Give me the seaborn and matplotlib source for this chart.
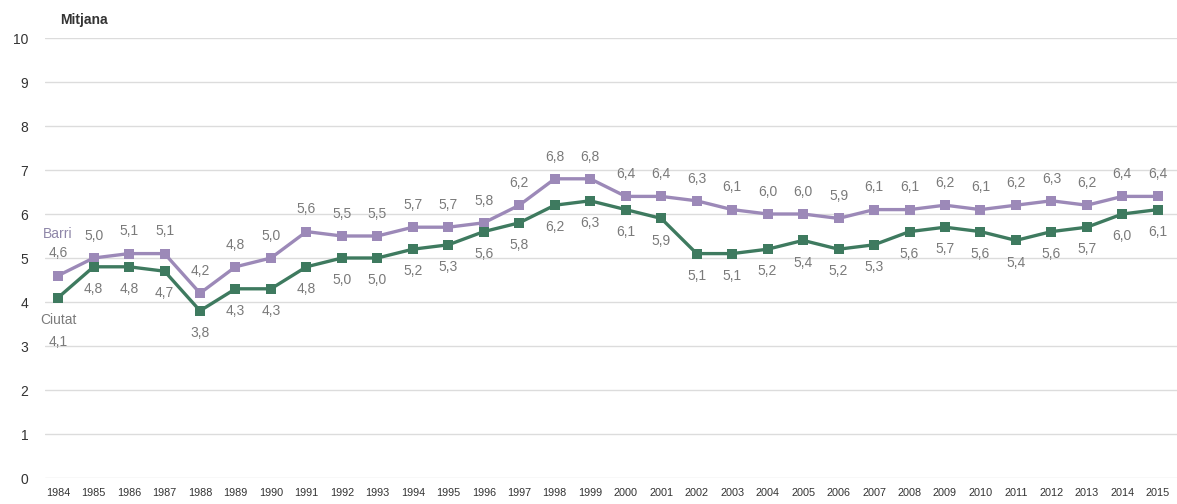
import pandas as pd
import seaborn as sns
import matplotlib.pyplot as plt

# Data
years = list(range(1984, 2016))
barri = [4.6, 5.0, 5.1, 5.1, 4.2, 4.8, 5.0, 5.6, 5.5, 5.5, 5.7, 5.7, 5.8, 6.2, 6.8, 6.8,
         6.4, 6.4, 6.3, 6.1, 6.0, 6.0, 5.9, 6.1, 6.1, 6.2, 6.1, 6.2, 6.3, 6.2, 6.4, 6.4]
ciutat = [4.1, 4.8, 4.8, 4.7, 3.8, 4.3, 4.3, 4.8, 5.0, 5.0, 5.2, 5.3, 5.6, 5.8, 6.2, 6.3,
          6.1, 5.9, 5.1, 5.1, 5.2, 5.4, 5.2, 5.3, 5.6, 5.7, 5.6, 5.4, 5.6, 5.7, 6.0, 6.1]

df = pd.DataFrame({
    "any": years * 2,
    "mitjana": barri + ciutat,
    "serie": ["Barri"] * len(years) + ["Ciutat"] * len(years),
})

sns.set_style("white")
plt.rcParams["font.family"] = ["Liberation Sans", "DejaVu Sans"]

colors = {"Barri": "#9c89b8", "Ciutat": "#3e7a5f"}
label_col = "#7a7a7a"

fig = plt.figure(figsize=(11.77, 5.04), dpi=100)
ax = fig.add_axes([45 / 1177, 26 / 504, 1 - 45 / 1177, 440 / 504])

sns.lineplot(data=df, x="any", y="mitjana", hue="serie", palette=colors,
             marker="s", markersize=7, markeredgewidth=0, linewidth=2.4,
             legend=False, ax=ax)

ax.set_ylim(0, 10)
ax.set_xlim(1983.63, 2015.54)
ax.set_yticks(range(0, 11))
ax.set_xticks(years)
ax.set_xticklabels([str(y) for y in years], fontsize=7.8, color="#333333")
ax.tick_params(axis="y", labelsize=10, colors="#333333", length=0, pad=12)
ax.tick_params(axis="x", length=0, pad=7)
ax.yaxis.grid(True, color="#dcdcdc", linewidth=1)
ax.set_axisbelow(True)
for s in ax.spines.values():
    s.set_visible(False)
ax.set_xlabel("")
ax.set_ylabel("")

# value labels: Barri above, Ciutat below
for x, v in zip(years, barri):
    ax.annotate(f"{v:.1f}".replace(".", ","), (x, v), xytext=(0, 11),
                textcoords="offset points", ha="center", va="bottom",
                fontsize=10, color=label_col)
for i, (x, v) in enumerate(zip(years, ciutat)):
    off = -27 if i == 0 else -11
    ax.annotate(f"{v:.1f}".replace(".", ","), (x, v), xytext=(0, off),
                textcoords="offset points", ha="center", va="top",
                fontsize=10, color=label_col)

# series names near first points
ax.annotate("Barri", (years[0], barri[0]), xytext=(0, 25), textcoords="offset points",
            ha="center", va="bottom", fontsize=10, color="#8e86a8")
ax.annotate("Ciutat", (years[0], ciutat[0]), xytext=(0, -11), textcoords="offset points",
            ha="center", va="top", fontsize=10, color=label_col)

fig.text(60 / 1177, 1 - 20 / 504, "Mitjana", fontsize=10, fontweight="bold",
         color="#333333", va="center")

fig.savefig("out.png", dpi=100)
